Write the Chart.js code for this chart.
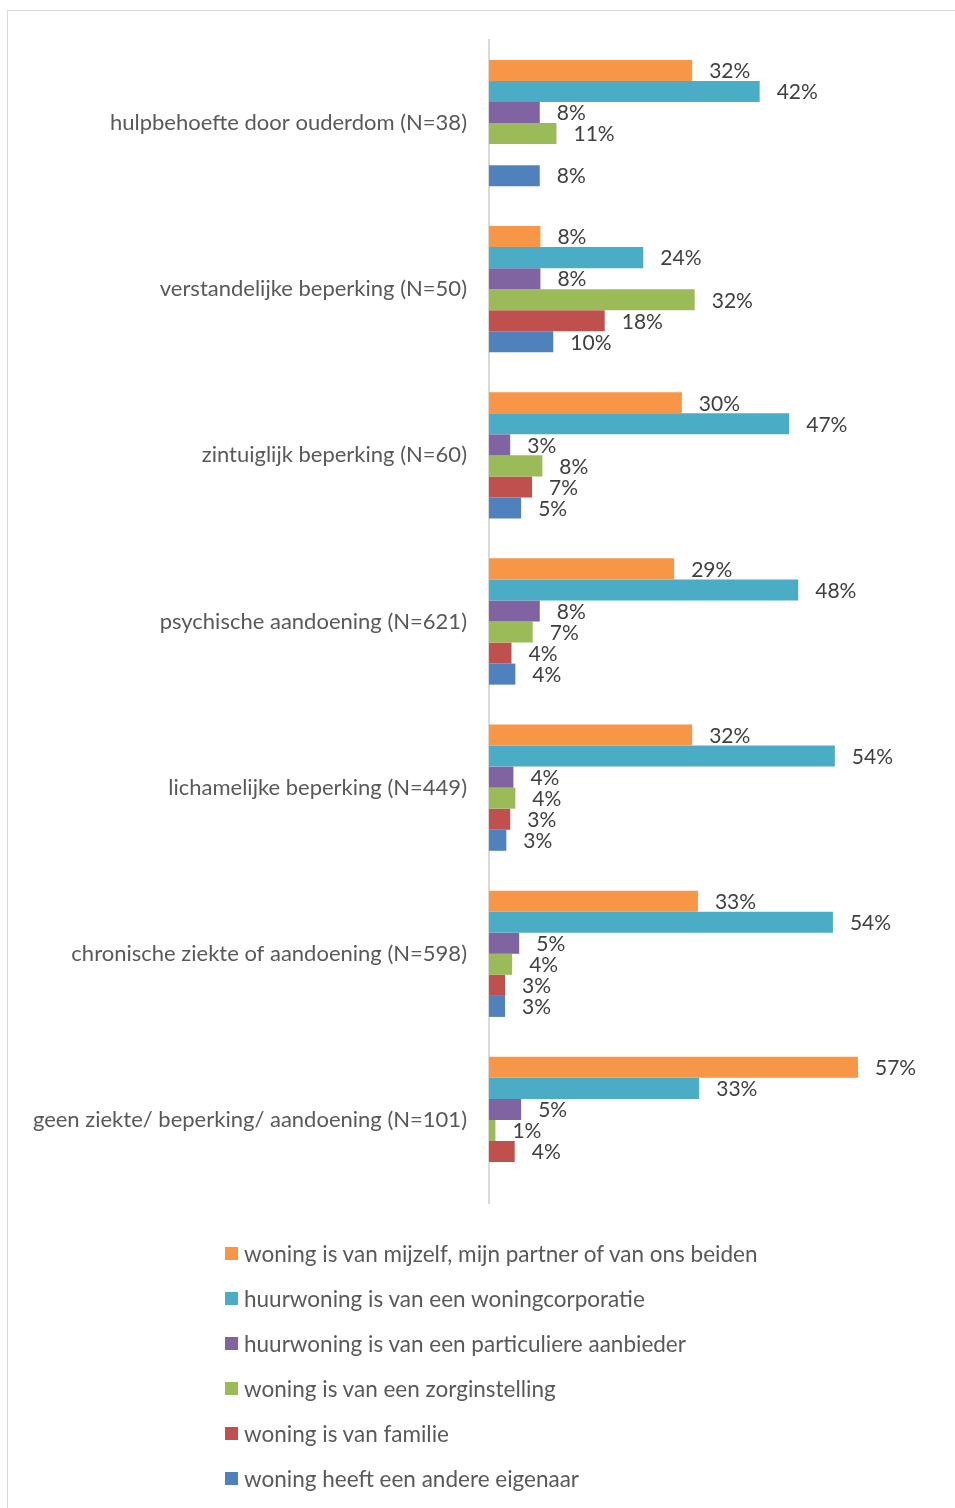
<!DOCTYPE html>
<html>
<head>
<meta charset="utf-8">
<script src="https://cdn.jsdelivr.net/npm/chart.js@4.4.0/dist/chart.umd.min.js"></script>
<style>
  body { margin: 0; background: #fff; font-family: Lato, "Noto Sans", sans-serif; }
  #frame { position: absolute; left: 7px; top: 10px; width: 960px; height: 1510px; border: 1px solid #d9d9d9; box-sizing: border-box; }
  #wrap { position: absolute; left: 0; top: 0; width: 955px; height: 1508px; }
  #legend { position: absolute; left: 225px; top: 1231px; }
  .item { height: 45px; display: flex; align-items: center; font-size: 22.5px; color: #595959; }
  .item span.box { width: 13px; height: 13px; margin-right: 6px; display: inline-block; }
</style>
</head>
<body>
<div id="frame"></div>
<div id="wrap"><canvas id="chart"></canvas></div>
<div id="legend"></div>
<script>
var categories = [
  "hulpbehoefte door ouderdom (N=38)",
  "verstandelijke beperking (N=50)",
  "zintuiglijk beperking (N=60)",
  "psychische aandoening (N=621)",
  "lichamelijke beperking (N=449)",
  "chronische ziekte of aandoening (N=598)",
  "geen ziekte/ beperking/ aandoening (N=101)"
];
var seriesNames = [
  "woning is van mijzelf, mijn partner of van ons beiden",
  "huurwoning is van een woningcorporatie",
  "huurwoning is van een particuliere aanbieder",
  "woning is van een zorginstelling",
  "woning is van familie",
  "woning heeft een andere eigenaar"
];
var colors = ["#F79646", "#4BACC6", "#8064A2", "#9BBB59", "#C0504D", "#4F81BD"];

var eigen        = [31.6, 8, 30, 28.8, 31.6, 32.5, 57.4];
var corporatie   = [42.1, 24, 46.7, 48.1, 53.8, 53.5, 32.7];
var particulier  = [7.9, 8, 3.3, 7.9, 3.8, 4.7, 5.0];
var zorg         = [10.5, 32, 8.3, 6.8, 4.1, 3.6, 1.0];
var familie      = [null, 18, 6.7, 3.5, 3.3, 2.5, 4.0];
var anders       = [7.9, 10, 5, 4.1, 2.7, 2.5, null];

var values = [eigen, corporatie, particulier, zorg, familie, anders];

var datasets = values.map(function (v, i) {
  return {
    label: seriesNames[i],
    data: v,
    backgroundColor: colors[i],
    categoryPercentage: 0.76,
    barPercentage: 1.0
  };
});

var labelPlugin = {
  id: "valueLabels",
  afterDatasetsDraw: function (chart) {
    var ctx = chart.ctx;
    ctx.save();
    ctx.font = "21px Lato, 'Noto Sans', sans-serif";
    ctx.fillStyle = "#404040";
    ctx.textAlign = "left";
    ctx.textBaseline = "middle";
    chart.data.datasets.forEach(function (ds, i) {
      var meta = chart.getDatasetMeta(i);
      meta.data.forEach(function (bar, j) {
        var v = ds.data[j];
        if (v === null) return;
        ctx.fillText(Math.round(v) + "%", bar.x + 17, bar.y + 1);
      });
    });
    ctx.restore();
  }
};

new Chart("chart", {
  type: "bar",
  data: { labels: categories, datasets: datasets },
  plugins: [labelPlugin],
  options: {
    indexAxis: "y",
    responsive: true,
    maintainAspectRatio: false,
    animation: false,
    layout: { padding: { top: 40, bottom: 305, right: 16, left: 0 } },
    plugins: { legend: { display: false }, tooltip: { enabled: false } },
    scales: {
      x: { display: false, min: 0, max: 70 },
      y: {
        afterFit: function (scale) { scale.width = 489; },
        grid: { display: false, drawTicks: false },
        border: { display: true, color: "#d9d9d9", width: 2 },
        ticks: { padding: 22, color: "#595959", font: { family: "Lato, 'Noto Sans', sans-serif", size: 22 } }
      }
    }
  }
});

var legend = document.getElementById("legend");
seriesNames.forEach(function (name, i) {
  var d = document.createElement("div");
  d.className = "item";
  d.innerHTML = '<span class="box" style="background:' + colors[i] + '"></span>' + name;
  legend.appendChild(d);
});
</script>
</body>
</html>
